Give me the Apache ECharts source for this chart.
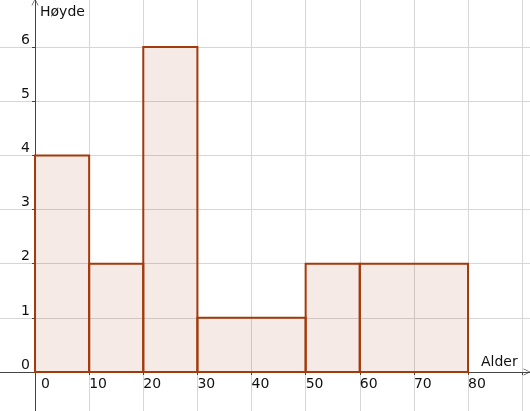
<!DOCTYPE html>
<html>
<head>
<meta charset="utf-8">
<script src="https://cdn.jsdelivr.net/npm/echarts@6/dist/echarts.min.js"></script>
<style>html,body{margin:0;padding:0;background:#fff}#c{width:530px;height:411px}</style>
</head>
<body>
<div id="c"></div>
<script>
var binStart = [0, 10, 20, 30, 50, 60];
var binEnd = [10, 20, 30, 50, 60, 80];
var heights = [4, 2, 6, 1, 2, 2];
var xTicks = [0, 10, 20, 30, 40, 50, 60, 70, 80, 90];
var xLabels = [0, 10, 20, 30, 40, 50, 60, 70, 80];
var yTicks = [0, 1, 2, 3, 4, 5, 6];
var xName = 'Alder';
var yName = 'Høyde';

var data = binStart.map(function (s, i) { return [s, binEnd[i], heights[i]]; });
var font = 'DejaVu Sans';
var chevron = 'path://M0,10 L5,0 L10,10 L9,10 L5,1.8 L1,10 Z';
var X_MIN = -6.47, X_MAX = 91.45, Y_MIN = -0.72, Y_MAX = 6.87;
var W = 530, H = 411;
// distance of the zero lines from the grid edges (layout only)
var yAxisOffset = -W * (0 - X_MIN) / (X_MAX - X_MIN);
var xAxisOffset = -H * (0 - Y_MIN) / (Y_MAX - Y_MIN);

var chart = echarts.init(document.getElementById('c'), null, { renderer: 'canvas' });
chart.setOption({
  animation: false,
  backgroundColor: '#fff',
  grid: { left: 0, right: 0, top: 0, bottom: 0, containLabel: false, outerBoundsMode: 'none' },
  xAxis: {
    type: 'value', min: X_MIN, max: X_MAX, position: 'bottom', offset: xAxisOffset,
    axisLine: { onZero: false, lineStyle: { color: '#444', width: 1 }, symbol: ['none', chevron], symbolSize: [8, 7], symbolOffset: [0, -3] },
    axisTick: { show: true, customValues: xTicks, length: 3, inside: false, lineStyle: { color: '#444' } },
    splitLine: { show: true, lineStyle: { color: '#d6d6d6', width: 1 } },
    axisLabel: {
      customValues: xLabels, margin: 5, align: 'left', verticalAlign: 'top',
      fontFamily: font, fontSize: 14, color: '#111',
      formatter: function (v) { return v === 0 ? '{z|0}' : String(v); },
      rich: { z: { padding: [0, 0, 0, 6], fontFamily: font, fontSize: 14, color: '#111' } }
    }
  },
  yAxis: {
    type: 'value', min: Y_MIN, max: Y_MAX, position: 'left', offset: yAxisOffset,
    axisLine: { onZero: false, lineStyle: { color: '#444', width: 1 }, symbol: ['none', chevron], symbolSize: [8, 7], symbolOffset: [0, -2] },
    axisTick: { show: true, customValues: yTicks, length: 3, inside: false, lineStyle: { color: '#444' } },
    splitLine: { show: true, lineStyle: { color: '#d6d6d6', width: 1 } },
    axisLabel: {
      customValues: yTicks, margin: 5, verticalAlign: 'bottom', lineHeight: 14,
      fontFamily: font, fontSize: 14, color: '#111'
    }
  },
  graphic: [
    { type: 'text', left: 40, top: 5, style: { text: yName, font: '14px "DejaVu Sans"', fill: '#111' } },
    { type: 'text', left: 481, top: 355, style: { text: xName, font: '14px "DejaVu Sans"', fill: '#111' } }
  ],
  series: [{
    type: 'custom',
    data: data,
    encode: { x: [0, 1], y: 2 },
    renderItem: function (params, api) {
      var p0 = api.coord([api.value(0), 0]);
      var p1 = api.coord([api.value(1), api.value(2)]);
      return {
        type: 'rect',
        shape: { x: p0[0], y: p1[1], width: p1[0] - p0[0], height: p0[1] - p1[1] },
        style: { fill: 'rgba(153,51,0,0.1)', stroke: '#a33a0b', lineWidth: 2 }
      };
    }
  }]
});
</script>
</body>
</html>
